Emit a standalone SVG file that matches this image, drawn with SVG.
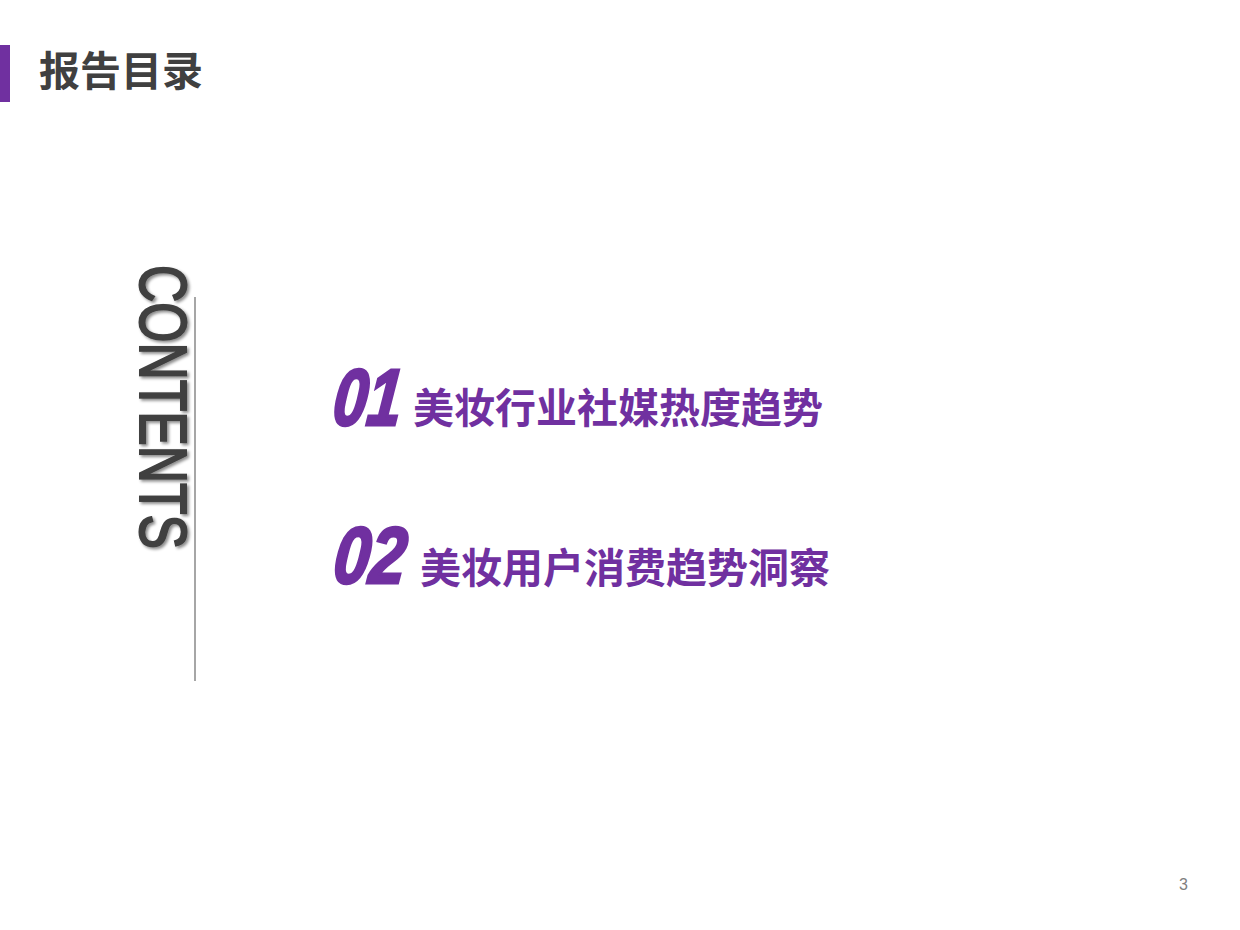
<svg xmlns="http://www.w3.org/2000/svg" width="1240" height="930" viewBox="0 0 1240 930">
<defs>
<style>
.cjk{font-family:"Liberation Sans","Noto Sans CJK SC",sans-serif;font-weight:bold}
.num{font-family:"Liberation Sans",sans-serif;font-weight:bold;font-style:italic;fill:#7030a0;stroke:#7030a0;stroke-width:3}
.item{fill:#7030a0;font-size:41px}
</style>
<filter id="sh" x="-20%" y="-20%" width="140%" height="140%"><feDropShadow dx="2" dy="-2" stdDeviation="1.5" flood-color="#000" flood-opacity="0.45"/></filter>
</defs>
<rect width="1240" height="930" fill="#fff"/>
<g id="title">
<rect x="0" y="45" width="10" height="57" fill="#7030a0"/>
<text x="39" y="86" class="cjk" font-size="41" fill="#404040">报告目录</text>
</g>
<g id="contents">
<text transform="translate(140,265) rotate(90)" font-family="Liberation Sans,sans-serif" font-size="66" fill="#404040" stroke="#404040" stroke-width="2" textLength="284" lengthAdjust="spacingAndGlyphs" filter="url(#sh)">CONTENTS</text>
<line x1="195" y1="297" x2="195" y2="681" stroke="#a6a6a6" stroke-width="2"/>
</g>
<g id="item1">
<text x="332" y="425" class="num" font-size="80" textLength="68" lengthAdjust="spacingAndGlyphs" transform="skewX(-6) translate(44,0)">01</text>
<text x="413" y="423" class="cjk item">美妆行业社媒热度趋势</text>
</g>
<g id="item2">
<text x="332" y="583" class="num" font-size="80" textLength="72" lengthAdjust="spacingAndGlyphs" transform="skewX(-6) translate(61,0)">02</text>
<text x="420" y="583" class="cjk item">美妆用户消费趋势洞察</text>
</g>
<text x="1179" y="890" font-family="Liberation Sans,sans-serif" font-size="16" fill="#7f7f7f">3</text>
</svg>
